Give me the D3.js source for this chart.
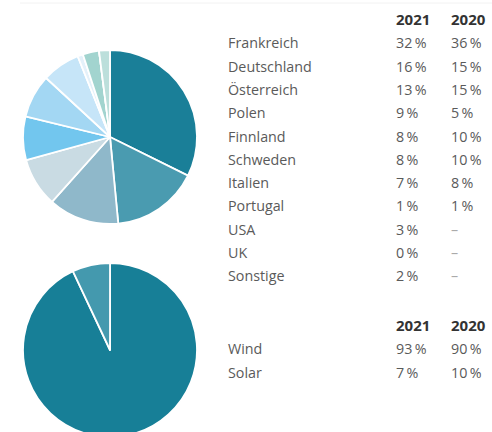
<!DOCTYPE html>
<html><head><meta charset="utf-8">
<script src="https://cdn.jsdelivr.net/npm/d3@7"></script>
<style>body{margin:0;background:#fff;}svg{display:block;}</style>
</head><body>
<script>
const countries = ["Frankreich","Deutschland","Österreich","Polen","Finnland","Schweden","Italien","Portugal","USA","UK","Sonstige"];
const values2021 = [32,16,13,9,8,8,7,1,3,0,2];
const labels2021 = ["32\u2009%","16\u2009%","13\u2009%","9\u2009%","8\u2009%","8\u2009%","7\u2009%","1\u2009%","3\u2009%","0\u2009%","2\u2009%"];
const labels2020 = ["36\u2009%","15\u2009%","15\u2009%","5\u2009%","10\u2009%","10\u2009%","8\u2009%","1\u2009%","–","–","–"];
const countryColors = ["#1a7f98","#4a9bb0","#8fb8ca","#c9dbe3","#72c6ee","#a3d7f3","#c6e5f8","#e4f1fa","#a2d4cf","#cfe8e5","#bcdfdb"];
const techs = ["Wind","Solar"];
const techValues2021 = [93,7];
const techLabels2021 = ["93\u2009%","7\u2009%"];
const techLabels2020 = ["90\u2009%","10\u2009%"];
const techColors = ["#177f97","#4499ae"];
const years = ["2021","2020"];

const W=492,H=432;
const svg=d3.select("body").append("svg").attr("width",W).attr("height",H);
svg.append("line").attr("x1",20).attr("x2",W).attr("y1",3).attr("y2",3).attr("stroke","#f2f2f2").attr("stroke-width",1);

const pie=d3.pie().sort(null).value(d=>d);
const arc=d3.arc().innerRadius(0).outerRadius(87);

function drawPie(cx,cy,vals,cols){
  const g=svg.append("g").attr("transform",`translate(${cx},${cy})`);
  g.selectAll("path").data(pie(vals)).join("path")
    .attr("d",arc).attr("fill",(d,i)=>cols[i])
    .attr("stroke","#fff").attr("stroke-width",1.8).attr("stroke-linejoin","round");
}
drawPie(110,137,values2021,countryColors);
drawPie(110,350,techValues2021,techColors);

const font="'Open Sans', sans-serif";
function drawTable(y0,names,a,b){
  const hdr=svg.append("g");
  hdr.selectAll("text").data(years).join("text")
    .attr("x",(d,i)=>[396,451][i]).attr("y",y0)
    .attr("font-family",font).attr("font-size",15).attr("font-weight","bold")
    .attr("fill","#333").text(d=>d);
  const rows=svg.append("g").selectAll("g").data(names).join("g")
    .attr("transform",(d,i)=>`translate(0,${y0+23.3*(i+1)})`);
  rows.append("text").attr("x",228).attr("font-family",font).attr("font-size",14.3).attr("fill","#5a5a5a").text(d=>d);
  rows.append("text").attr("x",396).attr("font-family",font).attr("font-size",14.3).attr("fill","#5a5a5a").text((d,i)=>a[i]);
  rows.append("text").attr("x",451).attr("font-family",font).attr("font-size",14.3)
    .attr("fill",(d,i)=>b[i]==="–"?"#aaa":"#5a5a5a").text((d,i)=>b[i]);
}
drawTable(25,countries,labels2021,labels2020);
drawTable(331,techs,techLabels2021,techLabels2020);
</script>
</body></html>
